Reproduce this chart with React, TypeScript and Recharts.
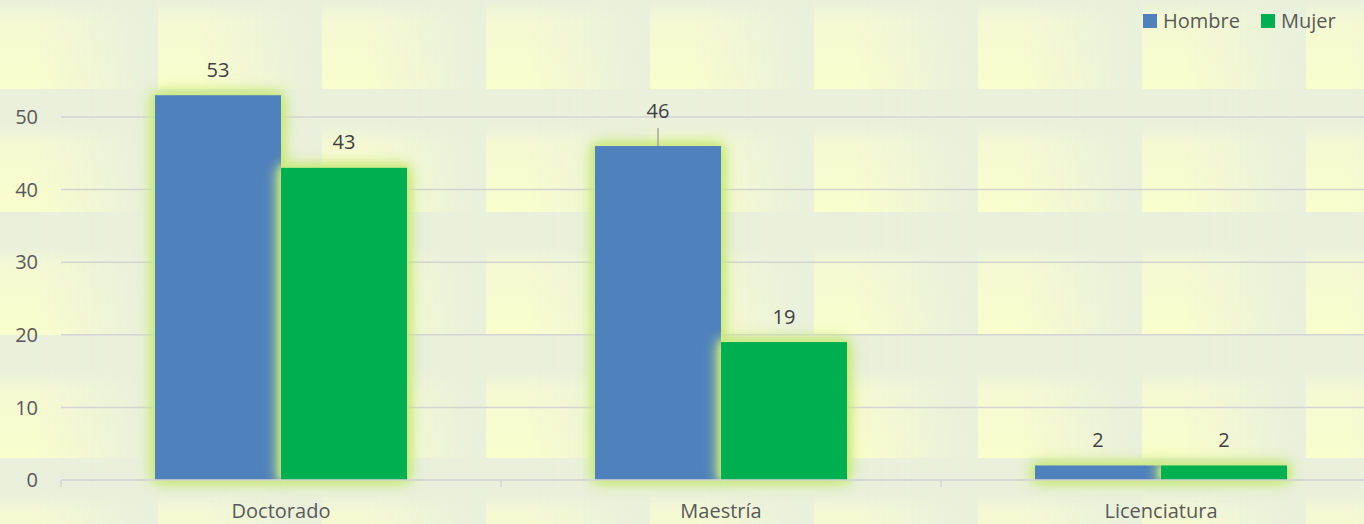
import { BarChart, Bar, XAxis, YAxis, CartesianGrid, LabelList } from 'recharts';

const categories = ['Doctorado', 'Maestría', 'Licenciatura'];
const hombre = [53, 46, 2];
const mujer = [43, 19, 2];
const yTicks = [0, 10, 20, 30, 40, 50];
const Y_MAX = 55;

const data = categories.map((name, i) => ({ name, hombre: hombre[i], mujer: mujer[i] }));

const BLUE = '#4f81bd';
const GREEN = '#00b050';
const FONT = '"Open Sans", sans-serif';
const PLOT_W = 1320;
const BAND = PLOT_W / categories.length;
const GLOW =
  'drop-shadow(0 0 3px rgba(205,235,140,1)) drop-shadow(0 0 6px rgba(200,232,126,1)) drop-shadow(0 0 6px rgba(196,232,110,0.8))';

const GlowBar = (p: any) => (
  <rect x={p.x} y={p.y} width={p.width} height={p.height} fill={p.fill} style={{ filter: GLOW }} />
);

const makeLabel = (leaderAt?: number) => (p: any) => {
  const cx = p.x + p.width / 2;
  const lifted = leaderAt === p.index;
  const cy = p.y - (lifted ? 35 : 25.5);
  return (
    <g>
      {lifted && <line x1={cx} x2={cx} y1={cy + 17} y2={p.y} stroke="#a6a6a6" strokeWidth={1.5} />}
      <text x={cx} y={cy} dy="0.355em" textAnchor="middle" fontSize={20} fontFamily={FONT} fill="#404040">
        {p.value}
      </text>
    </g>
  );
};

const XTick = (p: any) => {
  const axisY = p.y - 24;
  return (
    <g>
      <line x1={p.x - BAND / 2} x2={p.x - BAND / 2} y1={axisY} y2={axisY + 7} stroke="#d4d4d4" strokeWidth={1.5} />
      <text x={p.x} y={p.y} dy="0.71em" textAnchor="middle" fontSize={20} fontFamily={FONT} fill="#595959">
        {p.payload.value}
      </text>
    </g>
  );
};

// grid only at the labelled ticks, not at the top of the domain
const gridRows = ({ offset }: any) =>
  yTicks.map((t) => offset.top + offset.height * (1 - t / Y_MAX));

const legendItems = [{ c: BLUE, t: 'Hombre' }, { c: GREEN, t: 'Mujer' }];

export default function App() {
  return (
    <div
      style={{
        position: 'absolute', left: 0, top: 0, width: 1364, height: 524, overflow: 'hidden',
        backgroundColor: '#e9f0dc',
        backgroundImage:
          'linear-gradient(to right, rgba(233,240,220,0) 0%, rgba(233,240,220,0) 25%, rgba(233,240,220,0.55) 65%, rgba(233,240,220,1) 95%),' +
          'linear-gradient(to bottom, #e9f0dc 0%, #e9f0dc 28%, #f5f9d3 45%, #fafdcc 100%)',
        backgroundSize: '164px 123px',
        backgroundPosition: '-6px -34px',
      }}
    >
      <div style={{ position: 'absolute', left: 1143, top: 9, display: 'flex', alignItems: 'center', fontFamily: FONT, fontSize: 20, color: '#595959', lineHeight: '24px' }}>
        {legendItems.map((e, i) => (
          <span key={e.t} style={{ display: 'flex', alignItems: 'center', marginLeft: i ? 21 : 0 }}>
            <span style={{ width: 14, height: 14, background: e.c, marginRight: 6 }} />
            {e.t}
          </span>
        ))}
      </div>
      <BarChart width={1400} height={524} data={data} margin={{ top: 80.7, right: 19, bottom: 0, left: 0 }} barGap={0}>
        <CartesianGrid vertical={false} stroke="#d4d4d4" strokeWidth={1.5} horizontalCoordinatesGenerator={gridRows} />
        <XAxis
          dataKey="name"
          height={44}
          tickLine={false}
          tickSize={0}
          tickMargin={24}
          axisLine={{ stroke: '#d4d4d4', strokeWidth: 1.5 }}
          tick={<XTick />}
          interval={0}
        />
        <YAxis
          width={61}
          domain={[0, Y_MAX]}
          ticks={yTicks}
          axisLine={false}
          tickLine={false}
          tickSize={0}
          tickMargin={23}
          tick={{ fontSize: 20, fill: '#595959', fontFamily: FONT }}
        />
        <Bar dataKey="hombre" name="Hombre" fill={BLUE} barSize={126} shape={<GlowBar />} isAnimationActive={false}>
          <LabelList dataKey="hombre" content={makeLabel(categories.indexOf('Maestría'))} />
        </Bar>
        <Bar dataKey="mujer" name="Mujer" fill={GREEN} barSize={126} shape={<GlowBar />} isAnimationActive={false}>
          <LabelList dataKey="mujer" content={makeLabel()} />
        </Bar>
      </BarChart>
    </div>
  );
}
